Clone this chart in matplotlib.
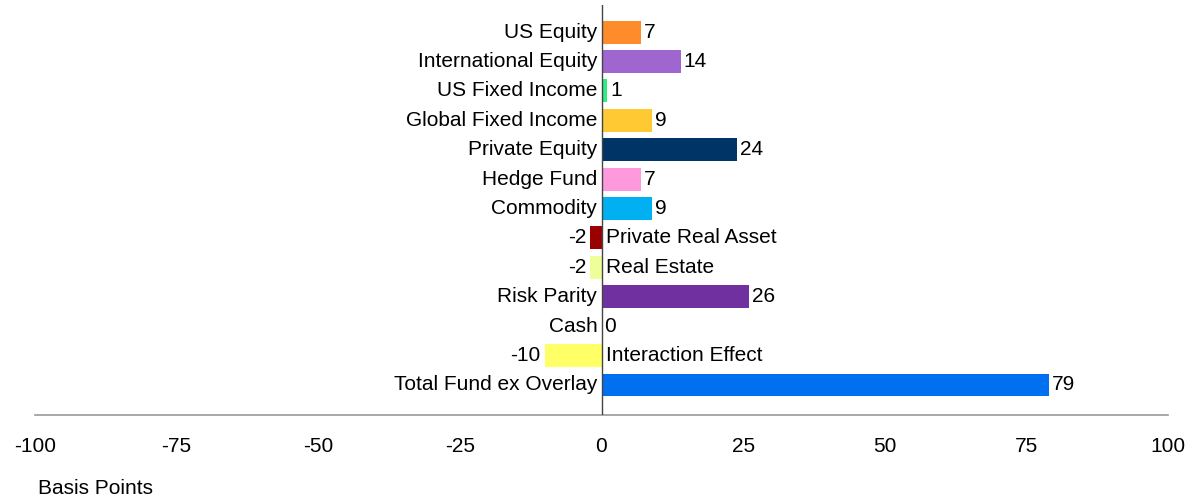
import matplotlib.pyplot as plt

plt.rcParams['font.family'] = ['Liberation Sans', 'DejaVu Sans']

# data
categories = ['US Equity', 'International Equity', 'US Fixed Income',
              'Global Fixed Income', 'Private Equity', 'Hedge Fund',
              'Commodity', 'Private Real Asset', 'Real Estate',
              'Risk Parity', 'Cash', 'Interaction Effect',
              'Total Fund ex Overlay']
values = [7, 14, 1, 9, 24, 7, 9, -2, -2, 26, 0, -10, 79]
colors = ['#FF8C2A', '#A066D0', '#2EF080', '#FFC933', '#003366', '#FF99DD',
          '#00B0F0', '#990000', '#EEFF99', '#7030A0', '#FFFFFF', '#FFFF66',
          '#0070F0']
xticks = [-100, -75, -50, -25, 0, 25, 50, 75, 100]

FS = 15

fig = plt.figure(figsize=(11.91, 5.03), dpi=100)
ax = fig.add_axes([35 / 1191, 88 / 503, 1133 / 1191, 410 / 503])

ypos = list(range(len(categories)))
ax.barh(ypos, values, height=0.78, color=colors, zorder=2)

for y, cat, v in zip(ypos, categories, values):
    if v >= 0:
        ax.annotate(cat, (0, y), xytext=(-3, 0), textcoords='offset points',
                    ha='right', va='center', fontsize=FS)
        ax.annotate(str(v), (v, y), xytext=(2, 0), textcoords='offset points',
                    ha='left', va='center', fontsize=FS)
    else:
        ax.annotate(cat, (0, y), xytext=(3, 0), textcoords='offset points',
                    ha='left', va='center', fontsize=FS)
        ax.annotate(str(v), (v, y), xytext=(-3, 0), textcoords='offset points',
                    ha='right', va='center', fontsize=FS)

ax.axvline(0, color='#444444', linewidth=1, zorder=3)

ax.set_xlim(-100, 100)
ax.set_ylim(len(categories) - 1 + 1.02, -0.92)
ax.set_xticks(xticks)
ax.set_xticklabels([str(t) for t in xticks], fontsize=FS)
ax.tick_params(axis='x', length=0, pad=16)
ax.set_yticks([])

for side in ['top', 'left', 'right']:
    ax.spines[side].set_visible(False)
ax.spines['bottom'].set_color('#999999')
ax.spines['bottom'].set_linewidth(1.2)

fig.text(38 / 1191, 1 - 488 / 503, 'Basis Points', fontsize=FS,
         ha='left', va='center')

fig.savefig('out.png', dpi=100)
